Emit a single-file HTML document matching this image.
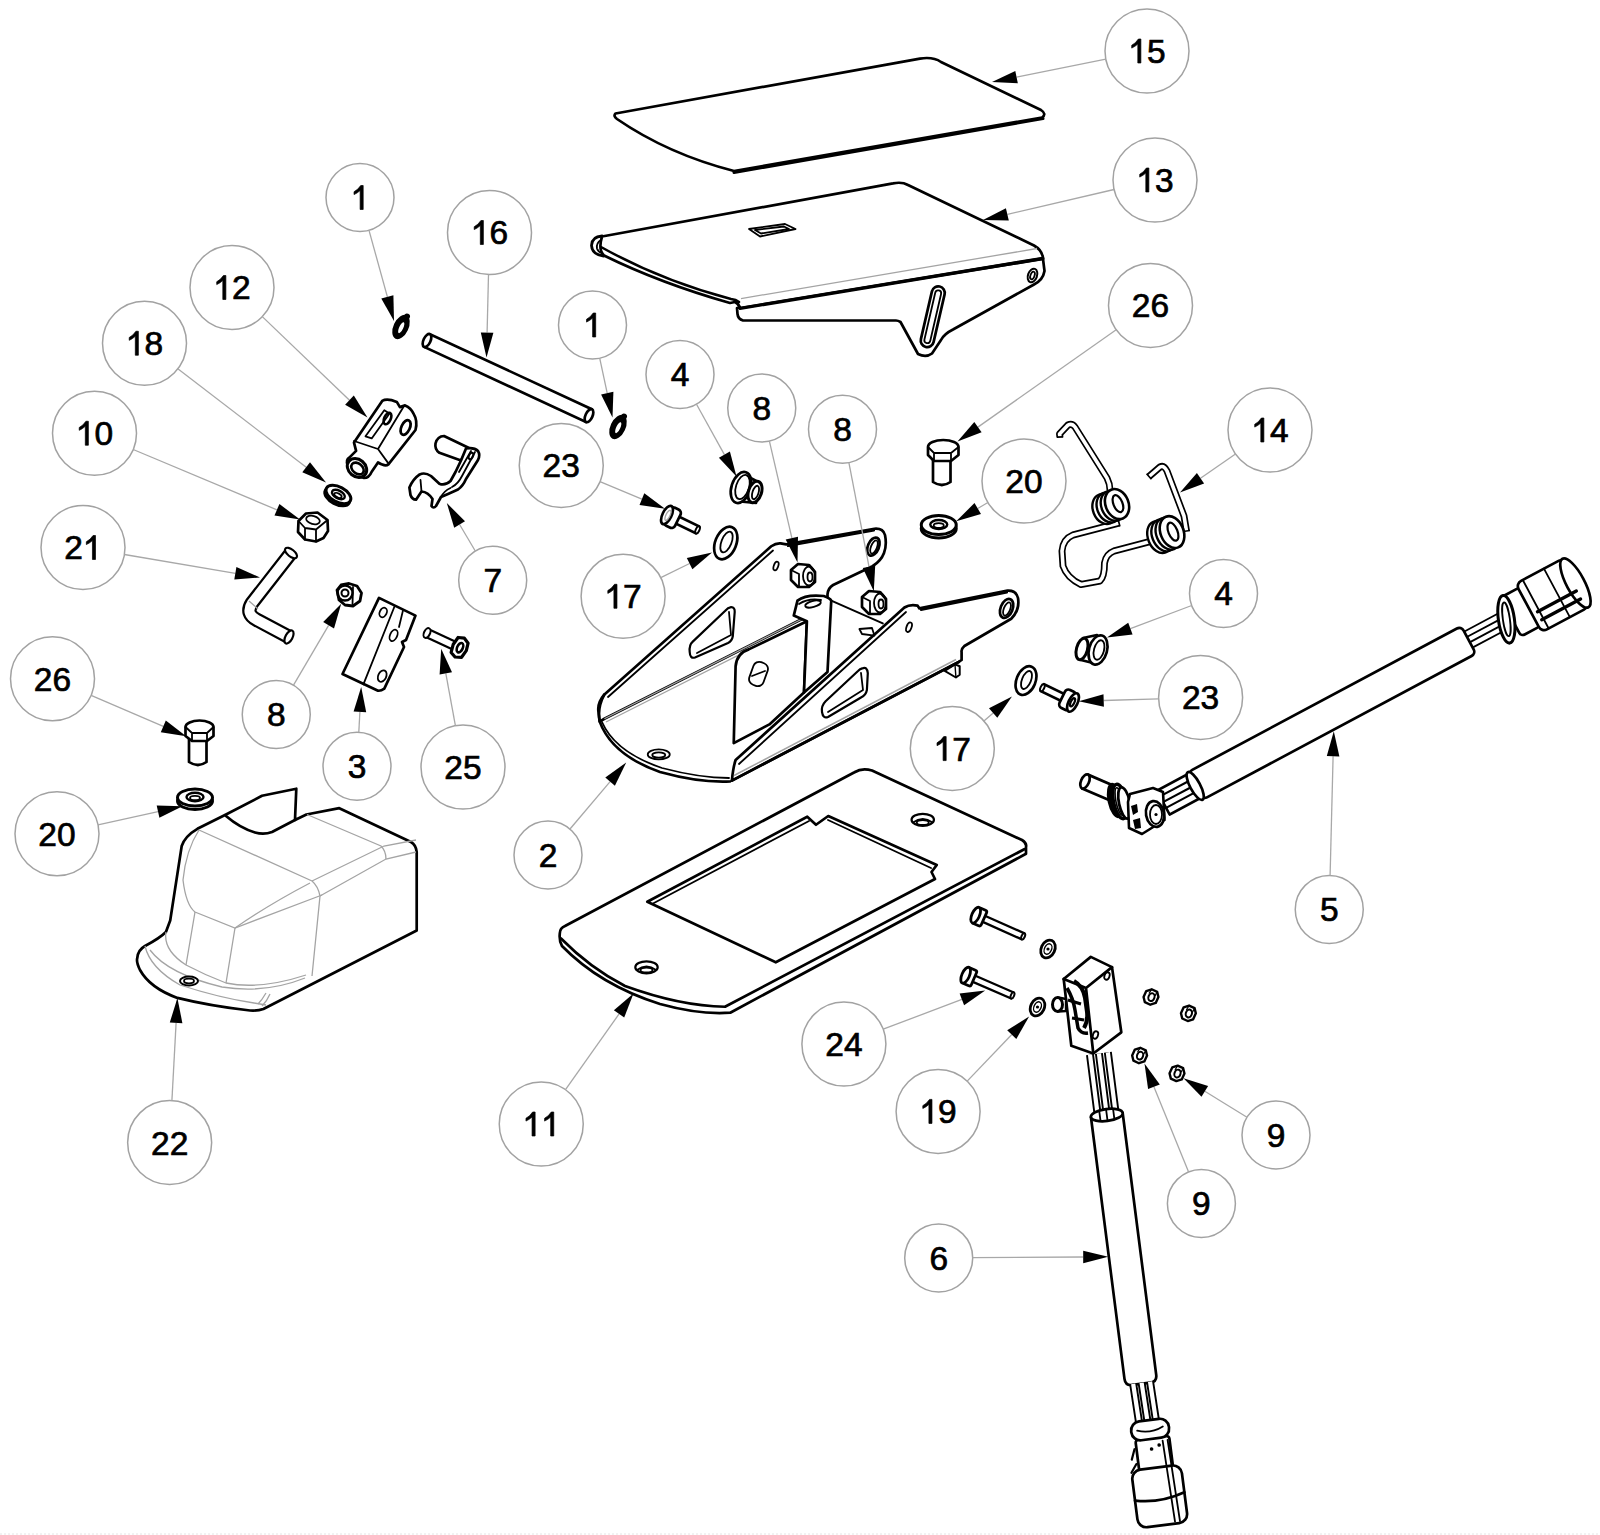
<!DOCTYPE html>
<html><head><meta charset="utf-8"><title>Exploded parts diagram</title>
<style>
html,body{margin:0;padding:0;background:#fff;}
svg{display:block;}
.c{fill:none;stroke:#a2a2a2;stroke-width:1.5;}
.l{stroke:#a8a8a8;stroke-width:1.3;}
.a{fill:#000;}
.t{font-family:"Liberation Sans",sans-serif;font-size:33.5px;text-anchor:middle;fill:#000;stroke:#000;stroke-width:0.7;}
.t1{fill:#000;stroke:#000;stroke-width:0.0209;}
.p{fill:#fff;stroke:#000;stroke-width:2.7;stroke-linejoin:round;stroke-linecap:round;}
.pn{fill:none;stroke:#000;stroke-width:2.7;stroke-linejoin:round;stroke-linecap:round;}
.d{fill:none;stroke:#000;stroke-width:1.8;stroke-linejoin:round;stroke-linecap:round;}
.g{fill:none;stroke:#a4a4a4;stroke-width:1.3;}
</style></head>
<body>
<svg width="1600" height="1535" viewBox="0 0 1600 1535">
<rect width="1600" height="1535" fill="#fff"/>
<line x1="0" y1="1534" x2="1600" y2="1534" stroke="#e4e4e4" stroke-width="1" stroke-dasharray="2,2"/>
<!-- ===== 15 plate ===== -->
<path class="p" d="M615.5,113.5 L920,58.6 Q933,56.5 941,62 L1041,110 Q1047,114 1042,117.5 L734,171 Q668,154 617,119 Q613,116 615.5,113.5 Z"/>
<path class="pn" d="M1043,118.5 L734,172.5" style="stroke-width:3"/>

<!-- ===== 13 pedal ===== -->
<path class="p" d="M1043,259 L1044.5,271 Q1043,280 1034,284.5 L953,329.5 Q944,334 941,340 L932,353.5 Q926,358 918,354 L900.5,322 Q898,320.5 896,320.5 L743,320.5 Q738,319 737.5,314 L737,308 Z"/>
<path class="p" d="M602,236.5 L893,183.4 Q902,181.5 908,185 L1034,245.5 Q1042,250 1043,258 L740,308 Q739,304 735,302 L730,303 Q660.4,283.2 604,255.5 Q598,250 602,236.5 Z"/>
<path class="pn" d="M601,247 Q661,280.5 731,299 Q736,299.5 739,302" style="stroke-width:2.5"/>
<path class="pn" d="M740,308.5 L1043,258.5" style="stroke-width:3"/>
<path class="pn" d="M602,236 Q592,236.5 591.5,245.5 Q592,254.5 603.5,256" style="stroke-width:2.8"/>
<path class="d" d="M601,240 Q596,243 597,248.5 Q598,252 602,253"/>
<path class="g" d="M741,298.6 L1037,248.5"/>
<g transform="translate(932.75,316.75) rotate(13)"><rect class="p" x="-6.5" y="-31" width="13" height="62" rx="6.5"/><rect class="d" x="-3" y="-27" width="6" height="54" rx="3"/></g>
<ellipse class="p" cx="1032.5" cy="275.5" rx="4.5" ry="7" transform="rotate(20 1032.5 275.5)" style="stroke-width:2"/>
<ellipse class="d" cx="1032.5" cy="275.5" rx="2" ry="4" transform="rotate(20 1032.5 275.5)"/>
<path class="d" d="M749,229 L785,224 L795.5,229 L760,236.5 Z"/>
<path class="d" d="M755,230 L784,226.5 L789,229 L761,233.5 Z"/>

<!-- ===== 16 rod ===== -->
<g transform="translate(427,340.5) rotate(24.9)">
<rect class="p" x="0" y="-7" width="178.6" height="14"/>
<ellipse class="p" cx="0" cy="0" rx="3.5" ry="7"/>
<ellipse class="p" cx="178.6" cy="0" rx="3.5" ry="7"/>
</g>

<!-- ===== 1 clips ===== -->
<g transform="translate(401,327) rotate(25)"><ellipse rx="7.5" ry="13" style="fill:#000"/><ellipse cx="0.5" cy="0.5" rx="2" ry="6" style="fill:#fff"/><circle cx="1" cy="-12" r="3" style="fill:#000"/></g>
<g transform="translate(618,427) rotate(25)"><ellipse rx="7.5" ry="13" style="fill:#000"/><ellipse cx="0.5" cy="0.5" rx="2" ry="6" style="fill:#fff"/><circle cx="1" cy="-12" r="3" style="fill:#000"/></g>

<!-- ===== 12 clevis ===== -->
<path class="p" d="M354,442.6 L382.2,400.9 Q387,398 396.8,401.9 L399.9,407.1 L405.1,405.4 Q411,408 413.4,413.4 Q418,421 415.5,430 L388.4,464.4 Q385,467 378,462.4 L371.7,471.7 Q369,478 364,478 Q356,476 348,466 Q345,460 349.8,457.1 L356.1,450.9 Z"/>
<path class="d" d="M354,441 L378,449 L388.4,463.4 M378,449 L404,406"/>
<path class="d" d="M365.5,436.3 L384.3,410.2 L389.5,413.4 L371.7,438.4 Z"/>
<ellipse class="pn" cx="387.5" cy="418.5" rx="3.2" ry="6.2" transform="rotate(25 387.5 418.5)" style="stroke-width:2.6"/>
<ellipse class="pn" cx="405.6" cy="427.5" rx="4.2" ry="7.8" transform="rotate(25 405.6 427.5)" style="stroke-width:2.8"/>
<ellipse class="p" cx="357" cy="468" rx="8.5" ry="10.5" transform="rotate(-50 357 468)" style="stroke-width:3"/>
<ellipse class="pn" cx="357.5" cy="468.5" rx="5" ry="7" transform="rotate(-50 357.5 468.5)" style="stroke-width:2.6"/>

<!-- ===== 7 bracket clip ===== -->
<path class="p" d="M444,436 L469,448 L461,460.5 L439.4,452.8 Q434.5,449.5 435.5,443.5 Q437.5,436 444,436 Z"/>
<path class="p" d="M466,448.5 Q474,447 478,451 Q480.5,455 478,460 L466,479 Q463,486 458,489.5 L448,494 L441,497 L436,506 Q433.5,509 431.5,506 L432.5,499 Q428,492 421.5,491.5 L416,499.7 Q412,499.5 410.5,495 L409.4,487.5 Q413,479 419.7,474.4 Q425,472 431,476 L439.4,483.7 Q445,486 450.5,481 L455.5,472 L461,460.5 Z"/>
<path class="d" d="M475,452 L462,476 Q458,484 452,487 M471,451 L459,472"/>
<path class="d" d="M421.5,491.5 L420.5,480 M441,497 Q444,491 450.5,488"/>
<ellipse class="pn" cx="471" cy="456" rx="2" ry="3.5" transform="rotate(25 471 456)" style="stroke-width:2"/>

<!-- ===== 18 washer ===== -->
<g transform="translate(338.4,494.5) rotate(28)"><ellipse class="p" cx="0" cy="2.5" rx="13.5" ry="7.5" style="stroke-width:3"/><ellipse class="p" rx="13.5" ry="7.5" style="stroke-width:3"/><ellipse class="pn" rx="7" ry="3.8" style="stroke-width:2.4"/><ellipse class="d" cx="0" cy="1" rx="4" ry="2"/></g>

<!-- ===== 10 nut ===== -->
<path class="p" d="M298.5,521 L306,513.5 L317.5,512.5 L327.5,520 L328,531 L323.5,538 L316,541.5 L305,539.5 L298,532 Z"/>
<path class="d" d="M298.5,521 L305,528 L316,529.5 L327.5,520 M305,528 L305,539.5 M316,529.5 L316,541.5"/>
<ellipse class="d" cx="313" cy="520" rx="7" ry="4" transform="rotate(15 313 520)"/>

<!-- ===== 21 L-pin ===== -->
<path d="M291,553 L252,603 Q245,614 257,620 L289,637" style="fill:none;stroke:#000;stroke-width:14.5;stroke-linejoin:round"/>
<path d="M291,553 L252,603 Q245,614 257,620 L289,637" style="fill:none;stroke:#fff;stroke-width:10;stroke-linejoin:round"/>
<ellipse class="p" cx="291" cy="553" rx="3.5" ry="7.2" transform="rotate(-52 291 553)" style="stroke-width:2.2"/>
<ellipse class="p" cx="289" cy="637" rx="3.5" ry="7.2" transform="rotate(28 289 637)" style="stroke-width:2.2"/>
<path class="g" d="M249,601 L258,609"/>

<!-- ===== 8 small nut (left) ===== -->
<path class="p" d="M337,590 L341,585 L349,583.5 L357,586 L361.5,593 L360,601 L353,606 L345,605 L339,600 Z" style="stroke-width:2.8"/>
<circle class="pn" cx="345" cy="593" r="7.5" style="stroke-width:2.4"/>
<circle class="pn" cx="345" cy="593" r="3.5" style="stroke-width:2"/>
<path class="d" d="M353,587 L352.5,604"/>

<!-- ===== 3 block ===== -->
<path class="p" d="M342.5,674 L379,597.9 L415.5,615.6 L406,640 L402,642 L404,647 L384.3,688.6 Q381,691 378,690.7 Z"/>
<path class="d" d="M394.7,606 L363.4,684.4 M403,610.4 L399,627"/>
<ellipse class="d" cx="383.2" cy="612.5" rx="3.5" ry="5" transform="rotate(25 383.2 612.5)"/>
<ellipse class="d" cx="393.6" cy="635.4" rx="3.5" ry="6" transform="rotate(25 393.6 635.4)"/>
<ellipse class="d" cx="382.2" cy="676.1" rx="4" ry="6" transform="rotate(25 382.2 676.1)"/>

<!-- ===== 25 bolt ===== -->
<path d="M427,633 L455,646" style="fill:none;stroke:#000;stroke-width:10.5"/>
<path d="M427,633 L455,646" style="fill:none;stroke:#fff;stroke-width:6"/>
<ellipse class="p" cx="427" cy="633" rx="3" ry="5.2" transform="rotate(25 427 633)" style="stroke-width:2"/>
<g transform="translate(459.5,647.5) rotate(25)"><path class="p" d="M-5.5,-8.5 L0.5,-10.5 L6,-7.5 L7.5,0 L6,8 L0,10.5 L-5.5,8 L-7,0 Z" style="stroke-width:3.2"/><ellipse class="pn" cx="0.5" cy="0" rx="2.8" ry="5" style="stroke-width:2.6"/></g>

<!-- ===== 26 bolt (left) ===== -->
<path class="p" d="M189,739 L189,762 Q198,768 206.5,762 L206.5,739 Z"/>
<path class="p" d="M185.5,727 L185.5,736 L192,741 L207,741 L213.5,736 L213.5,727 A14,6.5 0 0 0 185.5,727 Z"/>
<path class="d" d="M185.5,727 L192,733 L207,733 L213.5,727 M192,733 L192,741 M207,733 L207,741"/>

<!-- ===== 20 washer (left) ===== -->
<ellipse class="p" cx="195" cy="801" rx="17.5" ry="8.5" style="stroke-width:3"/>
<ellipse class="p" cx="195" cy="797.5" rx="17.5" ry="8.5" style="stroke-width:3"/>
<ellipse class="pn" cx="195" cy="797" rx="8.5" ry="4.3" style="stroke-width:2.4"/>
<ellipse class="d" cx="195" cy="798" rx="5" ry="2.2"/>

<!-- ===== 22 cover ===== -->
<path class="p" d="M197.4,828.8 L226,814.5 L262,795.8 L296.3,788.7 L295,820 L306.4,814.5 L339.3,808.2 L411,842 Q416,845 416.7,852 L416.7,930.5 L263.4,1009 Q258,1011 250,1010.5 Q210,1006 177.4,997.9 Q150,988 140,970 Q136,962 137.3,957.8 Q138,950 145,946 Q160,938 165.9,932 L170.2,920.5 L181.7,846 Q185,836 197.4,828.8 Z"/>
<path class="pn" d="M226,816 Q240,828 255,832.5 Q264,835 272,832 L295,820"/>
<path class="g" d="M199,830 L312,881 Q318,886 320,896 L312,976"/>
<path class="g" d="M307,814.5 L381,846 Q386,851 386,859"/>
<path class="g" d="M312,881 L384,846 L416,840"/>
<path class="g" d="M320,896 L386,859 L416,852"/>
<path class="g" d="M199,830 Q186,850 183,880 Q186,905 195,912 L235,928 L322,895"/>
<path class="g" d="M195,912 L186,965 M235,928 L226,983"/>
<path class="g" d="M166,932 Q163,950 186,965 Q205,975 226,983 Q260,990 306,975"/>
<path class="g" d="M145,946 Q150,968 180,985 Q220,998 254,1003 L266,1005"/>
<path class="g" d="M150,950 Q168,974 222,987 Q265,994 305,978"/>
<path class="g" d="M235,928 Q268,905 310,883"/>
<path class="g" d="M258,1004 Q262,1000 266,993 M262,1006 Q267,1001 270,994"/>
<ellipse class="p" cx="189" cy="981" rx="9" ry="4.5" style="stroke-width:2"/>
<ellipse class="d" cx="189" cy="981" rx="5" ry="2.3"/>

<!-- ===== 2 bracket ===== -->
<path class="p" d="M599.7,721.6 Q612,755 660,772 Q700,782 731.9,781 L958.75,661.9 L947.5,667.5 L805,617.5 L604.4,718.75 Z" style="stroke:none"/>
<path class="p" d="M604.4,694.4 L771.25,546.25 Q776,543 780.6,543.4 L786.25,544.4 L874.4,528.75 Q883,528 885,535 Q887,545 884,553 Q881,561 872.5,566.25 L833.1,585 Q828,588 827.5,594.4 L827.5,620 L805,617.5 L604.4,718.75 L599.7,721.6 Q597,708 604.4,694.4 Z"/>
<path class="pn" d="M604.4,694.4 Q597,703 598.5,712 L599.7,721.6 Q612,755 660,772 Q700,783 730,781.5"/>
<path class="d" d="M608,697 L773,550.5 M602,722 Q615,752 662,768 Q700,778 729,778"/>
<path class="g" d="M604.4,718.75 L805,617.5 M606,722 L806,621"/>
<!-- inner vertical plate -->
<path class="p" d="M733.75,743.1 L735.6,666.25 Q737,653 748.75,649.4 L806.9,621.25 L804,692.5 L769.4,724.4 Z"/>
<path class="p" d="M793.75,615.6 L797.5,600.6 Q806,594 823.75,596 Q830,598 831.25,600.6 L827.5,671.9 L804,692.5 L806.9,621.25 Z"/>
<path class="pn" d="M831.25,600.6 L882.8,623.4" style="stroke-width:2"/>
<path class="d" d="M799,604 Q808,598 821,600"/>
<ellipse class="d" cx="813" cy="604" rx="8" ry="3" transform="rotate(-15 813 604)"/>
<rect class="d" x="751" y="662" width="15" height="24" rx="6" transform="rotate(20 758.5 674)"/>
<path class="d" d="M752,676 L765,671"/>
<!-- right flange -->
<path class="p" d="M731.9,780.6 Q733,768 735.6,760 L904.4,607.5 Q910,604 917.5,605.6 L919.4,608.4 L1007.5,590.6 Q1016,590 1018,598 Q1020,610 1011.25,618.75 L964.4,646 Q961,649 961.6,652 L961.6,660 L958.75,661.9 Z"/>
<path class="d" d="M739,764 L906,612"/>
<path class="pn" d="M921,609.8 L1007,592.5" style="stroke-width:2.2"/>
<path class="pn" d="M788,546 L874,530.5" style="stroke-width:2.2"/>
<path class="g" d="M956,659.5 L734,775.5" style="stroke-width:1.5"/>
<path class="p" d="M944.7,670.9 L955,664.4 L959.7,666.2 L959.7,674.7 L955.9,677.5 Z" style="stroke-width:2"/>
<path class="d" d="M955,664.8 L955.9,677" style="stroke-width:1.4"/>
<path class="pn" d="M958.75,662 L731.9,780.6"/>
<path class="d" d="M859.4,629 L872,628 L874.4,635.6 L862,634 Z"/>
<!-- slots -->
<path class="p" d="M731,607.2 Q735,607 734.7,612 L732.8,636.25 Q732,641 728,643 L695,657.5 Q690,659 689.7,652 Q689,645 692.5,641.9 L725,611 Q728,607.5 731,607.2 Z" style="stroke-width:2.2"/>
<path class="d" d="M729,612 L731,635 L697,653"/>
<path class="p" d="M862.2,668.4 Q867,666 867.8,673.1 L866.9,690 Q866,695 861,697.5 L828,717 Q823,719 822,712 Q821,706 825.6,701.25 L858,671 Q860,669 862.2,668.4 Z" style="stroke-width:2.2"/>
<path class="d" d="M861,673 L863,690 L828,712"/>
<!-- holes -->
<ellipse class="d" cx="776" cy="566" rx="2.2" ry="4.5" transform="rotate(20 776 566)"/>
<ellipse class="d" cx="909" cy="627.2" rx="2.5" ry="5" transform="rotate(20 909 627.2)"/>
<ellipse class="pn" cx="873.4" cy="546.6" rx="5.5" ry="9.5" transform="rotate(22 873.4 546.6)"/>
<ellipse class="d" cx="874" cy="547" rx="3" ry="7" transform="rotate(22 874 547)"/>
<ellipse class="pn" cx="1006.6" cy="608.4" rx="6" ry="10" transform="rotate(22 1006.6 608.4)"/>
<ellipse class="d" cx="1007" cy="609" rx="3.2" ry="7" transform="rotate(22 1007 609)"/>
<ellipse class="d" cx="658.75" cy="754.4" rx="11" ry="5"/>
<ellipse class="d" cx="658.75" cy="755" rx="6.5" ry="2.6"/>

<!-- ===== 8 nuts on bracket ===== -->
<g transform="translate(803,576)"><path class="p" d="M-12,-6 L-5,-12 L6,-11 L12,-4 L12,6 L6,11 L-5,11 L-12,4 Z"/><path class="d" d="M-12,-6 L-4,-2 L-4,10"/><ellipse class="d" cx="6" cy="0" rx="6" ry="9.5"/><ellipse class="d" cx="7" cy="1" rx="2.5" ry="4.5"/></g>
<g transform="translate(874,603)"><path class="p" d="M-12,-6 L-5,-12 L6,-11 L12,-4 L12,6 L6,11 L-5,11 L-12,4 Z"/><path class="d" d="M-12,-6 L-4,-2 L-4,10"/><ellipse class="d" cx="6" cy="0" rx="6" ry="9.5"/><ellipse class="d" cx="7" cy="1" rx="2.5" ry="4.5"/></g>

<!-- ===== 4 bushings ===== -->
<path class="p" d="M744,474.4 L757.7,481.7 L756,503 L740,501.5 Z"/>
<ellipse class="p" cx="741" cy="487.5" rx="9.5" ry="16" transform="rotate(18 741 487.5)"/>
<ellipse class="d" cx="742.5" cy="487" rx="6.5" ry="12.5" transform="rotate(18 742.5 487)"/>
<ellipse class="p" cx="755" cy="492" rx="6.5" ry="11" transform="rotate(18 755 492)" style="stroke-width:3"/>
<ellipse class="d" cx="755.5" cy="492.5" rx="3" ry="7" transform="rotate(18 755.5 492.5)"/>
<path class="p" d="M1097,635 L1083,638 L1081,660 L1097,664 Z"/>
<ellipse class="p" cx="1082" cy="649" rx="5.5" ry="11" transform="rotate(15 1082 649)" style="stroke-width:3"/>
<ellipse class="p" cx="1098" cy="650" rx="9" ry="15" transform="rotate(15 1098 650)"/>
<ellipse class="d" cx="1099" cy="650" rx="5" ry="10" transform="rotate(15 1099 650)"/>

<!-- ===== 23 bolts ===== -->
<g transform="translate(667,515) rotate(26)">
<rect class="p" x="10" y="-3.8" width="24" height="7.6"/>
<ellipse class="p" cx="34" cy="0" rx="1.8" ry="3.8" style="stroke-width:2"/>
<rect class="p" x="0" y="-10" width="12" height="20" rx="4"/>
<ellipse class="p" cx="0" cy="0" rx="4.5" ry="10"/>
<ellipse class="g" cx="1" cy="0" rx="2" ry="5.5"/>
</g>
<g transform="translate(1073,702.5) rotate(205.8)">
<rect class="p" x="10" y="-3.8" width="24" height="7.6"/>
<ellipse class="p" cx="34" cy="0" rx="1.8" ry="3.8" style="stroke-width:2"/>
<rect class="p" x="0" y="-10" width="12" height="20" rx="4"/>
<ellipse class="p" cx="0" cy="0" rx="4.5" ry="10"/>
<ellipse class="pn" cx="0.5" cy="0" rx="1.8" ry="4.5" style="stroke-width:2.2"/>
</g>

<!-- ===== 17 washers ===== -->
<ellipse class="p" cx="725.75" cy="543" rx="10.5" ry="17" transform="rotate(22 725.75 543)"/>
<ellipse class="d" cx="726.5" cy="542" rx="5" ry="11" transform="rotate(22 726.5 542)"/>
<ellipse class="p" cx="1026" cy="680.6" rx="9.5" ry="15" transform="rotate(22 1026 680.6)"/>
<ellipse class="d" cx="1026.5" cy="680" rx="4.5" ry="9.5" transform="rotate(22 1026.5 680)"/>

<!-- ===== 26 bolt (right) ===== -->
<path class="p" d="M933,458 L933,482 Q942,488 950.5,482 L950.5,458 Z"/>
<path class="p" d="M928,447 L928,455 L934,461 L951,461 L958.5,455 L958.5,447 A15.25,7 0 0 0 928,447 Z"/>
<path class="d" d="M928,447 L934,453 L951,453 L958.5,447 M934,453 L934,461 M951,453 L951,461"/>

<!-- ===== 20 washer (right) ===== -->
<ellipse class="p" cx="938.75" cy="528.5" rx="17.5" ry="9.5" style="stroke-width:3"/>
<ellipse class="p" cx="938.75" cy="525" rx="17.5" ry="9.5" style="stroke-width:3"/>
<ellipse class="pn" cx="938.75" cy="524.5" rx="8.5" ry="4.5" style="stroke-width:2.4"/>
<ellipse class="d" cx="938.75" cy="525.5" rx="5" ry="2.4"/>

<!-- ===== 11 plate ===== -->
<path class="p" d="M559.8,933.3 Q560,928 565,926 L854.5,772.25 Q862,767.5 872,770.5 L1022,840 Q1027,843 1026,847 L1026,853.8 L730.25,1012.7 Q700,1015 660,1004 Q600,985 562,946 Q559,941 559.8,933.3 Z"/>
<path class="pn" d="M561,938.5 Q590,968 625,986 Q680,1006 725,1006.75 L1024.3,849.25" />
<path class="pn" d="M647.3,901.75 L807.25,816.7 L816,824.75 L828.25,816 L936.75,865 L931.5,872 L935,879 L775.75,962.3 Z" style="fill:#fff"/>
<path class="d" d="M653,903.5 L809,821 M828,820 L931,868"/>
<ellipse class="pn" cx="646.5" cy="967.3" rx="11.2" ry="6" style="stroke-width:2.2"/>
<path class="pn" d="M637,970 Q646.5,963 656,970" style="stroke-width:2"/>
<ellipse class="d" cx="646.5" cy="970" rx="6" ry="2.5"/>
<ellipse class="pn" cx="922.75" cy="819.8" rx="11.2" ry="6" style="stroke-width:2.2"/>
<path class="pn" d="M913,822.5 Q922.75,815.5 932.5,822.5" style="stroke-width:2"/>
<ellipse class="d" cx="922.75" cy="822.5" rx="6" ry="2.5"/>

<!-- ===== 14 springs ===== -->
<g style="fill:none;stroke-linejoin:round;stroke-linecap:butt">
<path d="M1060,437 L1059.5,434 L1068,425 Q1072,423 1075,427 L1107,478 Q1110,484 1110,490" style="stroke:#000;stroke-width:7"/>
<path d="M1060,437 L1059.5,434 L1068,425 Q1072,423 1075,427 L1107,478 Q1110,484 1110,490" style="stroke:#fff;stroke-width:3.6"/>
<path d="M1119,523 L1073,535 Q1063,539 1062,551 L1063,566 Q1067,578 1081,584.5 L1100,581 Q1104.5,577 1104.5,563 Q1106,554 1114,551 L1152,541" style="stroke:#000;stroke-width:7"/>
<path d="M1119,523 L1073,535 Q1063,539 1062,551 L1063,566 Q1067,578 1081,584.5 L1100,581 Q1104.5,577 1104.5,563 Q1106,554 1114,551 L1152,541" style="stroke:#fff;stroke-width:3.6"/>
<path d="M1186.5,531 L1184,516 L1167,471 Q1164,465 1160,467 L1149,476.5" style="stroke:#000;stroke-width:7"/>
<path d="M1186.5,531 L1184,516 L1167,471 Q1164,465 1160,467 L1149,476.5" style="stroke:#fff;stroke-width:3.6"/>
</g>
<path d="M1056.8,437.2 L1063.2,436.8 M1146.6,473.7 L1151.4,479.3 M1183,531.5 L1190,530.5 M1118.2,519.6 L1119.9,526.4" style="fill:none;stroke:#000;stroke-width:1.7"/>
<g transform="translate(1111,506.5) rotate(-22)">
<ellipse class="p" cx="-7" cy="0" rx="11.5" ry="15.5" style="stroke-width:2.4"/>
<ellipse class="p" cx="-2.5" cy="0" rx="11.5" ry="15.5" style="stroke-width:2.4"/>
<ellipse class="p" cx="2" cy="0" rx="11.5" ry="15.5" style="stroke-width:2.4"/>
<ellipse class="p" cx="6.5" cy="0" rx="11.5" ry="15.5" style="stroke-width:2.6"/>
<ellipse class="p" cx="7.5" cy="0" rx="4.5" ry="9" style="stroke-width:2.2"/>
</g>
<g transform="translate(1166,534.5) rotate(-22)">
<ellipse class="p" cx="-7" cy="0" rx="11.5" ry="16.5" style="stroke-width:2.4"/>
<ellipse class="p" cx="-2.5" cy="0" rx="11.5" ry="16.5" style="stroke-width:2.4"/>
<ellipse class="p" cx="2" cy="0" rx="11.5" ry="16.5" style="stroke-width:2.4"/>
<ellipse class="p" cx="6.5" cy="0" rx="11.5" ry="16.5" style="stroke-width:2.6"/>
<ellipse class="p" cx="7.5" cy="0" rx="4.5" ry="9.5" style="stroke-width:2.2"/>
</g>

<!-- ===== 5 sensor ===== -->
<g transform="translate(1195,785.6) rotate(-28.1)">
<path class="d" d="M306,-9 L350,-9 M306,-3 L350,-3 M306,3 L350,3 M306,9 L350,9"/>
<rect class="p" x="-36" y="-13.5" width="38" height="27"/>
<path class="d" d="M-36,-7 L0,-7 M-36,-0.5 L0,-0.5 M-36,6 L0,6" style="stroke-width:2.2"/>
<rect class="p" x="0" y="-15.2" width="310" height="31.2" rx="5"/>
<ellipse class="p" cx="0" cy="0.4" rx="5" ry="15.6"/>
<rect class="p" x="358" y="-22" width="22" height="44" rx="4"/>
<rect class="p" x="378" y="-27" width="54" height="55" rx="6"/>
<ellipse class="p" cx="431" cy="0.5" rx="9" ry="27.5"/>
<path class="pn" d="M384,8 L428,8 M384,17 L428,17" style="stroke-width:3.4"/>
<path class="d" d="M386,-27 L386,28 M410,-27 L410,28"/>
<ellipse class="p" cx="353" cy="0" rx="8" ry="24" transform="rotate(20 353 0)" style="stroke-width:3"/>
<ellipse class="d" cx="353" cy="0" rx="3.5" ry="17" transform="rotate(20 353 0)"/>
</g>
<g transform="translate(1085,781.5) rotate(23.3)"><rect class="p" x="0" y="-7.5" width="30" height="15"/><ellipse class="p" cx="0" cy="0" rx="4" ry="7.5"/></g>
<ellipse cx="1115" cy="800.5" rx="7.5" ry="18" transform="rotate(-12 1115 800.5)" style="fill:#000"/>
<ellipse cx="1120" cy="801.5" rx="6.5" ry="17.5" transform="rotate(-12 1120 801.5)" class="p" style="stroke-width:3.4"/>
<ellipse cx="1119.5" cy="801.5" rx="3.5" ry="14" transform="rotate(-12 1119.5 801.5)" class="d" style="stroke-width:1.6"/>
<ellipse cx="1124.5" cy="803" rx="5.5" ry="16" transform="rotate(-12 1124.5 803)" class="p" style="stroke-width:2.8"/>
<path class="p" d="M1130,794 L1153,788 L1163,792 L1164.5,820 L1142,834 L1129,828 L1128,802 Z" style="stroke-width:2.6"/>
<ellipse class="p" cx="1155" cy="814" rx="9" ry="13" transform="rotate(-10 1155 814)"/>
<ellipse class="d" cx="1156" cy="814.5" rx="6" ry="9.5"/>
<circle cx="1156" cy="814.5" r="1.6" style="fill:#000"/>
<path d="M1131,806 L1137,804 L1138,812 L1133,815 Z M1133,820 L1140,818 L1141,828 L1135,829 Z" style="fill:#000"/>

<!-- ===== 24 bolts ===== -->
<g transform="translate(977.5,916) rotate(24)">
<rect class="p" x="6" y="-3.3" width="44" height="6.6" style="stroke-width:2.3"/>
<ellipse class="p" cx="50" cy="0" rx="1.6" ry="3.3" style="stroke-width:2"/>
<rect class="p" x="-2" y="-8.5" width="9" height="17" rx="2" style="stroke-width:2.8"/>
<ellipse class="p" cx="-2" cy="0" rx="3.8" ry="8.5" style="stroke-width:2.8"/>
</g>
<g transform="translate(967.5,976) rotate(23.4)">
<rect class="p" x="6" y="-3.3" width="43" height="6.6" style="stroke-width:2.3"/>
<ellipse class="p" cx="49" cy="0" rx="1.6" ry="3.3" style="stroke-width:2"/>
<rect class="p" x="-2" y="-8.5" width="9" height="17" rx="2" style="stroke-width:2.8"/>
<ellipse class="p" cx="-2" cy="0" rx="3.8" ry="8.5" style="stroke-width:2.8"/>
</g>

<!-- ===== 19 washers ===== -->
<ellipse class="p" cx="1048" cy="949" rx="6.8" ry="9.3" transform="rotate(25 1048 949)" style="stroke-width:2.8"/>
<ellipse class="d" cx="1048" cy="949" rx="3.5" ry="5.5" transform="rotate(25 1048 949)" style="stroke-width:1.4"/>
<circle cx="1048" cy="949" r="1.6" style="fill:#000"/>
<ellipse class="p" cx="1037.5" cy="1007" rx="6.8" ry="9.3" transform="rotate(25 1037.5 1007)" style="stroke-width:2.8"/>
<ellipse class="d" cx="1037.5" cy="1007" rx="3.5" ry="5.5" transform="rotate(25 1037.5 1007)" style="stroke-width:1.4"/>
<circle cx="1037.5" cy="1007" r="1.6" style="fill:#000"/>

<!-- ===== 9 nuts ===== -->
<g transform="translate(1151,997) rotate(20)"><path class="p" d="M-6.5,-4 L-2,-7.5 L4,-7 L7,-2.5 L6.5,4 L2,7.5 L-4,7 L-7,2.5 Z" style="stroke-width:2.4"/><ellipse class="pn" cx="0.5" cy="0" rx="3" ry="4" style="stroke-width:2"/><path class="d" d="M-2,-7.5 L-3,-3 M4,-7 L3.5,-3" style="stroke-width:1.2"/></g>
<g transform="translate(1188.4,1013.3) rotate(20)"><path class="p" d="M-6.5,-4 L-2,-7.5 L4,-7 L7,-2.5 L6.5,4 L2,7.5 L-4,7 L-7,2.5 Z" style="stroke-width:2.4"/><ellipse class="pn" cx="0.5" cy="0" rx="3" ry="4" style="stroke-width:2"/><path class="d" d="M-2,-7.5 L-3,-3 M4,-7 L3.5,-3" style="stroke-width:1.2"/></g>
<g transform="translate(1139.6,1055.5) rotate(20)"><path class="p" d="M-6.5,-4 L-2,-7.5 L4,-7 L7,-2.5 L6.5,4 L2,7.5 L-4,7 L-7,2.5 Z" style="stroke-width:2.4"/><ellipse class="pn" cx="0.5" cy="0" rx="3" ry="4" style="stroke-width:2"/><path class="d" d="M-2,-7.5 L-3,-3 M4,-7 L3.5,-3" style="stroke-width:1.2"/></g>
<g transform="translate(1177,1073.4) rotate(20)"><path class="p" d="M-6.5,-4 L-2,-7.5 L4,-7 L7,-2.5 L6.5,4 L2,7.5 L-4,7 L-7,2.5 Z" style="stroke-width:2.4"/><ellipse class="pn" cx="0.5" cy="0" rx="3" ry="4" style="stroke-width:2"/><path class="d" d="M-2,-7.5 L-3,-3 M4,-7 L3.5,-3" style="stroke-width:1.2"/></g>

<!-- ===== 6 cable + switch ===== -->
<g transform="translate(1106.8,1115) rotate(-7.3)">
<path d="M-9,-62 L-9,0 M0,-62 L0,0 M9,-62 L9,0" style="fill:none;stroke:#000;stroke-width:8"/>
<path d="M-9,-62 L-9,0 M0,-62 L0,0 M9,-62 L9,0" style="fill:none;stroke:#fff;stroke-width:4.2"/>
<path class="p" d="M-16,0 L-16,264 Q-16,271 -9,271 L9,271 Q16,271 16,264 L16,0 Z"/>
<ellipse class="p" cx="0" cy="0" rx="16" ry="6"/>
<path class="d" d="M-7,-5 L-7,5 M0,-6 L0,6 M7,-5 L7,5"/>
<path d="M-8,270 L-7,312 M0.5,270 L1.5,312 M9,270 L10,312" style="fill:none;stroke:#000;stroke-width:8"/>
<path d="M-8,270 L-7,312 M0.5,270 L1.5,312 M9,270 L10,312" style="fill:none;stroke:#fff;stroke-width:4.2"/>
<rect class="p" x="-13" y="326" width="34" height="34" rx="3"/>
<rect class="p" x="-21" y="356" width="50" height="58" rx="9"/>
<path class="pn" d="M-21,386 Q4,392 29,384"/>
<path class="d" d="M14,330 L16,412 M19,330 L21,412"/>
<path class="pn" d="M-15,350 L-21,358 M-15,335 L-19,345" style="stroke-width:2.2"/>
<rect class="p" x="-16" y="308" width="38" height="19" rx="9"/>
<path class="d" d="M-10,317 Q3,322 16,316"/>
<circle cx="2" cy="337" r="1.8" style="fill:#000"/>
<circle cx="10" cy="334" r="1.8" style="fill:#000"/>
</g>
<path class="p" d="M1063.7,979 L1090.8,956.9 L1112,967.1 L1121.3,1032.3 L1093.3,1053.5 L1071.3,1045.8 Z"/>
<path class="pn" d="M1063.7,979 L1086,988 L1112,967.1 M1086,988 L1093.3,1053.5"/>
<ellipse class="d" cx="1107" cy="976" rx="2.5" ry="3.8" transform="rotate(20 1107 976)"/>
<ellipse class="d" cx="1095.5" cy="1035" rx="2.5" ry="3.8" transform="rotate(20 1095.5 1035)"/>
<path d="M1074,981 Q1083,986 1085,998 L1087,1012 Q1088,1021 1084,1028" style="fill:none;stroke:#000;stroke-width:4"/>
<path d="M1067,988 Q1073,998 1075,1010 L1078,1028 Q1081,1034 1088,1033" style="fill:none;stroke:#000;stroke-width:3.5"/>
<path d="M1068,1000 L1081,1004 M1072,1018 L1084,1020" style="fill:none;stroke:#000;stroke-width:3"/>
<path class="p" d="M1058,997.5 L1066,999 L1066,1011 L1058,1011.5 Z" style="stroke-width:2.4"/>
<ellipse class="p" cx="1057.5" cy="1004.5" rx="5" ry="7" style="stroke-width:3"/>

<circle cx="1147" cy="51" r="42" class="c"/>
<line x1="1105.8" y1="59.2" x2="1016.5" y2="77.1" class="l"/>
<polygon points="992.0,82.0 1015.3,70.9 1017.8,83.3" class="a"/>
<path class="t1" transform="translate(1128.37,62.99) scale(33.5)" d="M0.373,0 L0.282,0 L0.282,-0.565 Q0.20,-0.49 0.10,-0.445 L0.10,-0.53 Q0.22,-0.59 0.30,-0.716 L0.373,-0.716 Z"/>
<text x="1156.31" y="62.99" class="t">5</text>
<circle cx="1155" cy="180" r="42" class="c"/>
<line x1="1114.1" y1="189.5" x2="1007.4" y2="214.3" class="l"/>
<polygon points="983.0,220.0 1005.9,208.2 1008.8,220.5" class="a"/>
<path class="t1" transform="translate(1136.37,191.99) scale(33.5)" d="M0.373,0 L0.282,0 L0.282,-0.565 Q0.20,-0.49 0.10,-0.445 L0.10,-0.53 Q0.22,-0.59 0.30,-0.716 L0.373,-0.716 Z"/>
<text x="1164.31" y="191.99" class="t">3</text>
<circle cx="1150.5" cy="305.5" r="42" class="c"/>
<line x1="1116.2" y1="329.7" x2="977.9" y2="427.1" class="l"/>
<polygon points="957.5,441.5 974.3,421.9 981.6,432.2" class="a"/>
<text x="1141.19" y="317.49" class="t">2</text>
<text x="1159.81" y="317.49" class="t">6</text>
<circle cx="360" cy="197.5" r="34" class="c"/>
<line x1="369.0" y1="230.3" x2="387.4" y2="296.9" class="l"/>
<polygon points="394.0,321.0 381.3,298.6 393.4,295.2" class="a"/>
<path class="t1" transform="translate(350.69,209.49) scale(33.5)" d="M0.373,0 L0.282,0 L0.282,-0.565 Q0.20,-0.49 0.10,-0.445 L0.10,-0.53 Q0.22,-0.59 0.30,-0.716 L0.373,-0.716 Z"/>
<circle cx="489.5" cy="232.5" r="42" class="c"/>
<line x1="488.5" y1="274.5" x2="487.1" y2="332.5" class="l"/>
<polygon points="486.5,357.5 480.8,332.4 493.4,332.7" class="a"/>
<path class="t1" transform="translate(470.87,244.49) scale(33.5)" d="M0.373,0 L0.282,0 L0.282,-0.565 Q0.20,-0.49 0.10,-0.445 L0.10,-0.53 Q0.22,-0.59 0.30,-0.716 L0.373,-0.716 Z"/>
<text x="498.81" y="244.49" class="t">6</text>
<circle cx="232" cy="287.5" r="42" class="c"/>
<line x1="262.3" y1="316.6" x2="349.5" y2="400.2" class="l"/>
<polygon points="367.5,417.5 345.1,404.7 353.8,395.6" class="a"/>
<path class="t1" transform="translate(213.37,299.49) scale(33.5)" d="M0.373,0 L0.282,0 L0.282,-0.565 Q0.20,-0.49 0.10,-0.445 L0.10,-0.53 Q0.22,-0.59 0.30,-0.716 L0.373,-0.716 Z"/>
<text x="241.31" y="299.49" class="t">2</text>
<circle cx="144.5" cy="343.25" r="42" class="c"/>
<line x1="177.8" y1="368.8" x2="306.2" y2="467.3" class="l"/>
<polygon points="326.0,482.5 302.3,472.3 310.0,462.3" class="a"/>
<path class="t1" transform="translate(125.87,355.24) scale(33.5)" d="M0.373,0 L0.282,0 L0.282,-0.565 Q0.20,-0.49 0.10,-0.445 L0.10,-0.53 Q0.22,-0.59 0.30,-0.716 L0.373,-0.716 Z"/>
<text x="153.81" y="355.24" class="t">8</text>
<circle cx="592.5" cy="325" r="34" class="c"/>
<line x1="599.7" y1="358.2" x2="607.2" y2="393.1" class="l"/>
<polygon points="612.5,417.5 601.1,394.4 613.4,391.7" class="a"/>
<path class="t1" transform="translate(583.19,336.99) scale(33.5)" d="M0.373,0 L0.282,0 L0.282,-0.565 Q0.20,-0.49 0.10,-0.445 L0.10,-0.53 Q0.22,-0.59 0.30,-0.716 L0.373,-0.716 Z"/>
<circle cx="680" cy="374.5" r="34" class="c"/>
<line x1="696.5" y1="404.2" x2="724.4" y2="454.6" class="l"/>
<polygon points="736.5,476.5 718.9,457.7 729.9,451.6" class="a"/>
<text x="680.00" y="386.49" class="t">4</text>
<circle cx="761.75" cy="408" r="34" class="c"/>
<line x1="769.4" y1="441.1" x2="791.9" y2="538.1" class="l"/>
<polygon points="797.5,562.5 785.7,539.6 798.0,536.7" class="a"/>
<text x="761.75" y="419.99" class="t">8</text>
<circle cx="842.5" cy="429.25" r="34" class="c"/>
<line x1="848.9" y1="462.6" x2="869.0" y2="566.7" class="l"/>
<polygon points="873.8,591.2 862.8,567.9 875.2,565.5" class="a"/>
<text x="842.50" y="441.24" class="t">8</text>
<circle cx="94.5" cy="433.25" r="42" class="c"/>
<line x1="133.2" y1="449.5" x2="276.9" y2="509.8" class="l"/>
<polygon points="300.0,519.5 274.5,515.6 279.4,504.0" class="a"/>
<path class="t1" transform="translate(75.87,445.24) scale(33.5)" d="M0.373,0 L0.282,0 L0.282,-0.565 Q0.20,-0.49 0.10,-0.445 L0.10,-0.53 Q0.22,-0.59 0.30,-0.716 L0.373,-0.716 Z"/>
<text x="103.81" y="445.24" class="t">0</text>
<circle cx="561.25" cy="465.5" r="42" class="c"/>
<line x1="600.0" y1="481.7" x2="641.9" y2="499.1" class="l"/>
<polygon points="665.0,508.8 639.5,504.9 644.3,493.3" class="a"/>
<text x="551.94" y="477.49" class="t">2</text>
<text x="570.56" y="477.49" class="t">3</text>
<circle cx="1024" cy="481" r="42" class="c"/>
<line x1="987.9" y1="502.5" x2="977.7" y2="508.5" class="l"/>
<polygon points="956.2,521.2 974.5,503.1 981.0,513.9" class="a"/>
<text x="1014.69" y="492.99" class="t">2</text>
<text x="1033.31" y="492.99" class="t">0</text>
<circle cx="1270" cy="430" r="42" class="c"/>
<line x1="1235.5" y1="454.0" x2="1200.5" y2="478.2" class="l"/>
<polygon points="1180.0,492.5 1196.9,473.1 1204.1,483.4" class="a"/>
<path class="t1" transform="translate(1251.37,441.99) scale(33.5)" d="M0.373,0 L0.282,0 L0.282,-0.565 Q0.20,-0.49 0.10,-0.445 L0.10,-0.53 Q0.22,-0.59 0.30,-0.716 L0.373,-0.716 Z"/>
<text x="1279.31" y="441.99" class="t">4</text>
<circle cx="83" cy="547.5" r="42" class="c"/>
<line x1="124.4" y1="554.5" x2="235.4" y2="573.3" class="l"/>
<polygon points="260.0,577.5 234.3,579.5 236.4,567.1" class="a"/>
<text x="73.69" y="559.49" class="t">2</text>
<path class="t1" transform="translate(83.00,559.49) scale(33.5)" d="M0.373,0 L0.282,0 L0.282,-0.565 Q0.20,-0.49 0.10,-0.445 L0.10,-0.53 Q0.22,-0.59 0.30,-0.716 L0.373,-0.716 Z"/>
<circle cx="492.7" cy="580.2" r="34" class="c"/>
<line x1="475.3" y1="551.0" x2="459.6" y2="524.5" class="l"/>
<polygon points="446.8,503.0 465.0,521.3 454.2,527.7" class="a"/>
<text x="492.70" y="592.19" class="t">7</text>
<circle cx="623.1" cy="596.3" r="42" class="c"/>
<line x1="660.8" y1="577.7" x2="689.6" y2="563.5" class="l"/>
<polygon points="712.0,552.5 692.4,569.2 686.8,557.9" class="a"/>
<path class="t1" transform="translate(604.47,608.29) scale(33.5)" d="M0.373,0 L0.282,0 L0.282,-0.565 Q0.20,-0.49 0.10,-0.445 L0.10,-0.53 Q0.22,-0.59 0.30,-0.716 L0.373,-0.716 Z"/>
<text x="632.41" y="608.29" class="t">7</text>
<circle cx="1223.5" cy="593.5" r="34" class="c"/>
<line x1="1191.7" y1="605.5" x2="1130.4" y2="628.7" class="l"/>
<polygon points="1107.0,637.5 1128.2,622.8 1132.6,634.6" class="a"/>
<text x="1223.50" y="605.49" class="t">4</text>
<circle cx="52.5" cy="678.75" r="42" class="c"/>
<line x1="91.1" y1="695.3" x2="163.3" y2="726.4" class="l"/>
<polygon points="186.2,736.2 160.8,732.2 165.8,720.6" class="a"/>
<text x="43.19" y="690.74" class="t">2</text>
<text x="61.81" y="690.74" class="t">6</text>
<circle cx="276.25" cy="714.5" r="34" class="c"/>
<line x1="293.5" y1="685.2" x2="328.6" y2="625.3" class="l"/>
<polygon points="341.2,603.8 334.0,628.5 323.2,622.1" class="a"/>
<text x="276.25" y="726.49" class="t">8</text>
<circle cx="357" cy="766.25" r="34" class="c"/>
<line x1="358.8" y1="732.3" x2="359.9" y2="712.0" class="l"/>
<polygon points="361.2,687.0 366.2,712.3 353.6,711.6" class="a"/>
<text x="357.00" y="778.24" class="t">3</text>
<circle cx="463" cy="767" r="42" class="c"/>
<line x1="455.4" y1="725.7" x2="445.8" y2="673.3" class="l"/>
<polygon points="441.2,648.8 452.0,672.2 439.6,674.5" class="a"/>
<text x="453.69" y="778.99" class="t">2</text>
<text x="472.31" y="778.99" class="t">5</text>
<circle cx="1200.6" cy="697.5" r="42" class="c"/>
<line x1="1158.6" y1="698.8" x2="1103.7" y2="700.5" class="l"/>
<polygon points="1078.8,701.2 1103.5,694.2 1103.9,706.8" class="a"/>
<text x="1191.29" y="709.49" class="t">2</text>
<text x="1209.91" y="709.49" class="t">3</text>
<circle cx="952.3" cy="748.6" r="42" class="c"/>
<line x1="983.9" y1="721.0" x2="993.2" y2="712.9" class="l"/>
<polygon points="1012.0,696.5 997.3,717.7 989.0,708.2" class="a"/>
<path class="t1" transform="translate(933.67,760.59) scale(33.5)" d="M0.373,0 L0.282,0 L0.282,-0.565 Q0.20,-0.49 0.10,-0.445 L0.10,-0.53 Q0.22,-0.59 0.30,-0.716 L0.373,-0.716 Z"/>
<text x="961.61" y="760.59" class="t">7</text>
<circle cx="57" cy="833.75" r="42" class="c"/>
<line x1="98.0" y1="824.8" x2="158.1" y2="811.6" class="l"/>
<polygon points="182.5,806.2 159.4,817.8 156.7,805.4" class="a"/>
<text x="47.69" y="845.74" class="t">2</text>
<text x="66.31" y="845.74" class="t">0</text>
<circle cx="548" cy="855" r="34" class="c"/>
<line x1="570.0" y1="829.0" x2="610.1" y2="781.6" class="l"/>
<polygon points="626.2,762.5 614.9,785.7 605.3,777.5" class="a"/>
<text x="548.00" y="866.99" class="t">2</text>
<circle cx="1329.25" cy="909.4" r="34" class="c"/>
<line x1="1330.1" y1="875.4" x2="1333.1" y2="756.2" class="l"/>
<polygon points="1333.8,731.2 1339.4,756.4 1326.8,756.1" class="a"/>
<text x="1329.25" y="921.39" class="t">5</text>
<circle cx="843.9" cy="1044.1" r="42" class="c"/>
<line x1="883.2" y1="1029.2" x2="961.9" y2="999.4" class="l"/>
<polygon points="985.2,990.5 964.1,1005.3 959.6,993.5" class="a"/>
<text x="834.59" y="1056.09" class="t">2</text>
<text x="853.21" y="1056.09" class="t">4</text>
<circle cx="938.1" cy="1111.4" r="42" class="c"/>
<line x1="967.2" y1="1081.1" x2="1011.8" y2="1034.5" class="l"/>
<polygon points="1029.1,1016.5 1016.3,1038.9 1007.2,1030.2" class="a"/>
<path class="t1" transform="translate(919.47,1123.39) scale(33.5)" d="M0.373,0 L0.282,0 L0.282,-0.565 Q0.20,-0.49 0.10,-0.445 L0.10,-0.53 Q0.22,-0.59 0.30,-0.716 L0.373,-0.716 Z"/>
<text x="947.41" y="1123.39" class="t">9</text>
<circle cx="1276" cy="1135" r="34" class="c"/>
<line x1="1247.0" y1="1117.2" x2="1204.8" y2="1091.3" class="l"/>
<polygon points="1183.5,1078.2 1208.1,1086.0 1201.5,1096.7" class="a"/>
<text x="1276.00" y="1146.99" class="t">9</text>
<circle cx="1201.4" cy="1203.4" r="34" class="c"/>
<line x1="1188.6" y1="1171.9" x2="1153.9" y2="1086.8" class="l"/>
<polygon points="1144.5,1063.6 1159.8,1084.4 1148.1,1089.1" class="a"/>
<text x="1201.40" y="1215.39" class="t">9</text>
<circle cx="541.25" cy="1124" r="42" class="c"/>
<line x1="565.5" y1="1089.7" x2="619.1" y2="1013.9" class="l"/>
<polygon points="633.5,993.5 624.2,1017.6 613.9,1010.3" class="a"/>
<path class="t1" transform="translate(522.62,1135.99) scale(33.5)" d="M0.373,0 L0.282,0 L0.282,-0.565 Q0.20,-0.49 0.10,-0.445 L0.10,-0.53 Q0.22,-0.59 0.30,-0.716 L0.373,-0.716 Z"/>
<path class="t1" transform="translate(541.25,1135.99) scale(33.5)" d="M0.373,0 L0.282,0 L0.282,-0.565 Q0.20,-0.49 0.10,-0.445 L0.10,-0.53 Q0.22,-0.59 0.30,-0.716 L0.373,-0.716 Z"/>
<circle cx="169.65" cy="1142.6" r="42" class="c"/>
<line x1="171.9" y1="1100.7" x2="176.1" y2="1022.9" class="l"/>
<polygon points="177.4,997.9 182.4,1023.2 169.8,1022.5" class="a"/>
<text x="160.34" y="1154.59" class="t">2</text>
<text x="178.96" y="1154.59" class="t">2</text>
<circle cx="938.7" cy="1257.9" r="34" class="c"/>
<line x1="972.7" y1="1257.7" x2="1083.2" y2="1257.0" class="l"/>
<polygon points="1108.2,1256.8 1083.2,1263.3 1083.2,1250.7" class="a"/>
<text x="938.70" y="1269.89" class="t">6</text>
</svg>
</body></html>
